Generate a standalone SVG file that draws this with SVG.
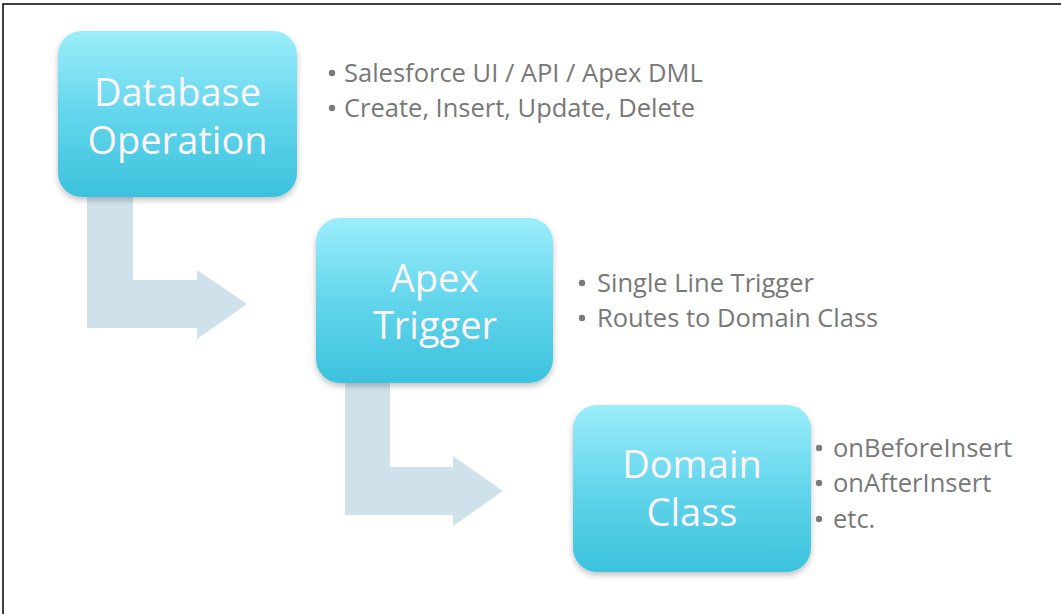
<svg xmlns="http://www.w3.org/2000/svg" width="1061" height="614" viewBox="0 0 1061 614">
  <defs>
    <linearGradient id="boxGrad" x1="0" y1="0" x2="0" y2="1">
      <stop offset="0" stop-color="#9cedfa"/>
      <stop offset="0.5" stop-color="#63d6ec"/>
      <stop offset="1" stop-color="#3cc2dd"/>
    </linearGradient>
    <filter id="shadow" x="-10%" y="-10%" width="120%" height="130%">
      <feGaussianBlur in="SourceAlpha" stdDeviation="3"/>
      <feOffset dy="3" result="b"/>
      <feComponentTransfer><feFuncA type="linear" slope="0.25"/></feComponentTransfer>
      <feMerge><feMergeNode/><feMergeNode in="SourceGraphic"/></feMerge>
    </filter>
    <style>
      .box { fill: url(#boxGrad); filter: url(#shadow); }
      .boxText { font-family: "Open Sans", "Liberation Sans", sans-serif; font-size: 38px; fill: #fdf4f9; text-anchor: middle; }
      .side { font-family: "Open Sans", "Liberation Sans", sans-serif; font-size: 25.5px; fill: #787878; }
      .bullet { fill: #7b7b7b; }
      .arrow { fill: #cfe1eb; }
      .frame { fill: none; stroke: #000; stroke-width: 1.5; }
    </style>
  </defs>

  <rect x="0" y="0" width="1061" height="614" fill="#ffffff"/>
  <path class="frame" d="M3,614 V4 H1061"/>

  <g id="connectors">
    <polygon class="arrow" points="87,190 87,328 197,328 197,339 247,304 197,270 197,280 133,280 133,190"/>
    <polygon class="arrow" points="345,376 345,515 453,515 453,526 503,491 453,456 453,467 390,467 390,376"/>
  </g>

  <g id="node-database-operation">
    <rect class="box" x="58" y="31" width="239" height="166" rx="24" ry="24"/>
    <text class="boxText" x="177.5" y="106">Database</text>
    <text class="boxText" x="177.5" y="154">Operation</text>
  </g>

  <g id="node-apex-trigger">
    <rect class="box" x="316" y="218" width="237" height="165" rx="24" ry="24"/>
    <text class="boxText" x="435" y="292">Apex</text>
    <text class="boxText" x="435" y="339">Trigger</text>
  </g>

  <g id="node-domain-class">
    <rect class="box" x="573" y="405" width="238" height="167" rx="24" ry="24"/>
    <text class="boxText" x="692" y="478">Domain</text>
    <text class="boxText" x="692" y="526">Class</text>
  </g>

  <g id="notes-database-operation">
    <circle class="bullet" cx="332" cy="73" r="3.2"/>
    <text class="side" x="344" y="82">Salesforce UI / API / Apex DML</text>
    <circle class="bullet" cx="332" cy="108" r="3.2"/>
    <text class="side" x="344" y="117">Create, Insert, Update, Delete</text>
  </g>

  <g id="notes-apex-trigger">
    <circle class="bullet" cx="582" cy="283" r="3.2"/>
    <text class="side" x="597" y="292">Single Line Trigger</text>
    <circle class="bullet" cx="582" cy="318" r="3.2"/>
    <text class="side" x="597" y="327">Routes to Domain Class</text>
  </g>

  <g id="notes-domain-class">
    <circle class="bullet" cx="819" cy="448" r="3.2"/>
    <text class="side" x="833" y="457">onBeforeInsert</text>
    <circle class="bullet" cx="819" cy="483" r="3.2"/>
    <text class="side" x="833" y="492">onAfterInsert</text>
    <circle class="bullet" cx="819" cy="519" r="3.2"/>
    <text class="side" x="833" y="528">etc.</text>
  </g>
</svg>
